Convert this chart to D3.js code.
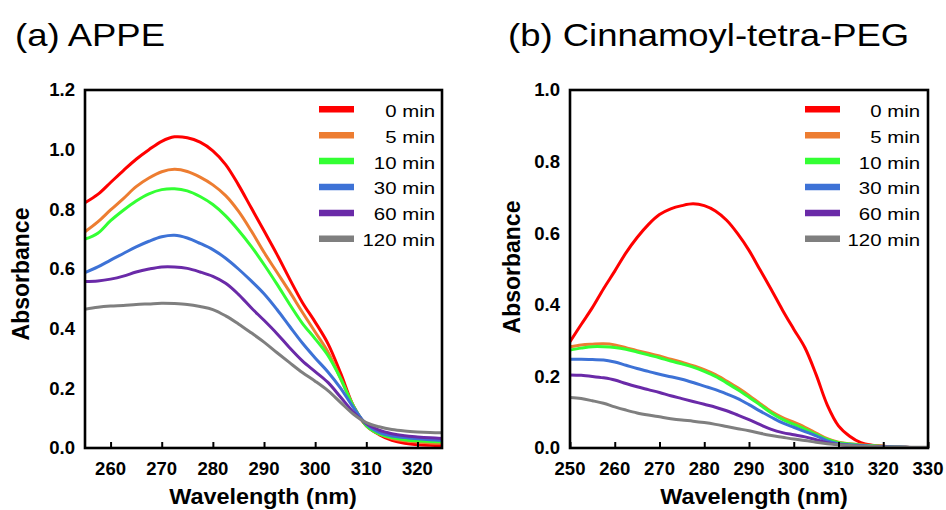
<!DOCTYPE html>
<html>
<head>
<meta charset="utf-8">
<script src="https://cdn.jsdelivr.net/npm/d3@7"></script>
<style>
  html, body { margin: 0; padding: 0; background: #fff; }
  svg { display: block; font-family: "Liberation Sans", Arial, sans-serif; }
</style>
</head>
<body>
<svg id="chart" width="946" height="510"></svg>
<script>
// Irradiation times shown in the legends
const timeLabels = ["0 min", "5 min", "10 min", "30 min", "60 min", "120 min"];
const seriesColors = ["#ff0000", "#ed7d31", "#33ff33", "#3d72d6", "#6a2aa8", "#7f7f7f"];

// (a) APPE — wavelength grid (nm) and absorbance per irradiation time
const wavelengthA = [255, 257.5, 260, 262.5, 265, 267.5, 270, 272.5, 275, 277.5, 280, 282.5, 285, 287.5, 290,
  292.5, 295, 297.5, 300, 302.5, 305, 307.5, 310, 312.5, 315, 317.5, 320, 322.5, 325];
const appe0 = [0.822, 0.850, 0.890, 0.930, 0.968, 1.000, 1.028, 1.043, 1.040, 1.025, 0.996, 0.950, 0.882, 0.805, 0.728,
  0.650, 0.567, 0.488, 0.422, 0.350, 0.250, 0.140, 0.075, 0.045, 0.026, 0.016, 0.011, 0.009, 0.008];
const appe5 = [0.725, 0.758, 0.798, 0.836, 0.876, 0.905, 0.926, 0.934, 0.927, 0.908, 0.882, 0.846, 0.794, 0.728, 0.656,
  0.590, 0.524, 0.455, 0.389, 0.322, 0.232, 0.140, 0.075, 0.047, 0.032, 0.024, 0.020, 0.017, 0.016];
const appe10 = [0.700, 0.720, 0.762, 0.797, 0.828, 0.852, 0.866, 0.869, 0.862, 0.843, 0.816, 0.778, 0.730, 0.676, 0.615,
  0.550, 0.482, 0.418, 0.366, 0.310, 0.232, 0.140, 0.075, 0.047, 0.035, 0.028, 0.024, 0.022, 0.021];
const appe30 = [0.588, 0.607, 0.630, 0.652, 0.674, 0.693, 0.708, 0.713, 0.704, 0.686, 0.665, 0.636, 0.600, 0.560, 0.517,
  0.465, 0.408, 0.352, 0.302, 0.255, 0.200, 0.135, 0.080, 0.052, 0.040, 0.035, 0.031, 0.028, 0.026];
const appe60 = [0.558, 0.560, 0.566, 0.576, 0.590, 0.600, 0.607, 0.607, 0.602, 0.590, 0.575, 0.552, 0.515, 0.470, 0.428,
  0.384, 0.336, 0.292, 0.256, 0.220, 0.170, 0.120, 0.082, 0.060, 0.048, 0.041, 0.037, 0.034, 0.032];
const appe120 = [0.465, 0.472, 0.476, 0.478, 0.481, 0.483, 0.485, 0.484, 0.481, 0.474, 0.464, 0.443, 0.416, 0.386, 0.355,
  0.320, 0.286, 0.253, 0.224, 0.192, 0.152, 0.113, 0.085, 0.071, 0.062, 0.057, 0.054, 0.052, 0.051];

// (b) Cinnamoyl-tetra-PEG
const wavelengthB = [250, 252.5, 255, 257.5, 260, 262.5, 265, 267.5, 270, 272.5, 275, 277.5, 280, 282.5, 285, 287.5, 290,
  292.5, 295, 297.5, 300, 302.5, 305, 307.5, 310, 312.5, 315, 317.5, 320, 322.5, 325, 327.5, 330];
const peg0 = [0.297, 0.345, 0.392, 0.445, 0.494, 0.545, 0.588, 0.624, 0.652, 0.668, 0.677, 0.682, 0.677, 0.662, 0.636, 0.598, 0.552,
  0.497, 0.442, 0.385, 0.332, 0.280, 0.205, 0.120, 0.062, 0.033, 0.015, 0.008, 0.005, 0.003, 0.002, 0.001, 0.001];
const peg5 = [0.283, 0.288, 0.290, 0.291, 0.288, 0.280, 0.272, 0.265, 0.257, 0.248, 0.240, 0.230, 0.219, 0.205, 0.187, 0.168, 0.147,
  0.124, 0.102, 0.085, 0.072, 0.058, 0.042, 0.026, 0.016, 0.012, 0.009, 0.007, 0.005, 0.003, 0.002, 0.001, 0.001];
const peg10 = [0.274, 0.279, 0.283, 0.283, 0.281, 0.276, 0.268, 0.260, 0.252, 0.243, 0.235, 0.226, 0.214, 0.200, 0.182, 0.163, 0.142,
  0.120, 0.098, 0.080, 0.066, 0.053, 0.038, 0.024, 0.015, 0.011, 0.008, 0.006, 0.004, 0.003, 0.002, 0.001, 0.001];
const peg30 = [0.248, 0.248, 0.247, 0.246, 0.240, 0.231, 0.222, 0.214, 0.206, 0.199, 0.192, 0.183, 0.173, 0.163, 0.151, 0.138, 0.121,
  0.103, 0.086, 0.070, 0.058, 0.046, 0.034, 0.020, 0.012, 0.009, 0.007, 0.005, 0.004, 0.003, 0.002, 0.001, 0.001];
const peg60 = [0.204, 0.203, 0.200, 0.196, 0.190, 0.180, 0.171, 0.163, 0.155, 0.146, 0.138, 0.130, 0.122, 0.114, 0.104, 0.092, 0.079,
  0.065, 0.052, 0.043, 0.037, 0.031, 0.023, 0.015, 0.010, 0.007, 0.005, 0.004, 0.003, 0.002, 0.002, 0.001, 0.001];
const peg120 = [0.141, 0.138, 0.132, 0.125, 0.115, 0.106, 0.098, 0.092, 0.087, 0.082, 0.078, 0.075, 0.071, 0.066, 0.060, 0.054, 0.048,
  0.041, 0.035, 0.030, 0.025, 0.021, 0.016, 0.012, 0.009, 0.007, 0.005, 0.004, 0.003, 0.002, 0.002, 0.002, 0.002];

// Axis ticks
const xTicksA = [260, 270, 280, 290, 300, 310, 320];
const xTicksB = [250, 260, 270, 280, 290, 300, 310, 320, 330];
const yTicksA = [0, 0.2, 0.4, 0.6, 0.8, 1.0, 1.2];
const yTicksB = [0, 0.2, 0.4, 0.6, 0.8, 1.0];

const svg = d3.select("#chart");

// Text with a slight horizontal widening of the glyphs
function wideText(parent, x, y, str, { size, weight = "normal", anchor = "start", sx = 1, rotate = 0 }) {
  const g = parent.append("g")
    .attr("transform", `translate(${x},${y}) rotate(${rotate}) scale(${sx},1)`);
  g.append("text")
    .attr("x", 0).attr("y", 0)
    .attr("text-anchor", anchor)
    .attr("font-size", size)
    .attr("font-weight", weight)
    .attr("fill", "#000")
    .text(str);
  return g;
}

function drawPanel(cfg) {
  const { left, right, top, bottom, xDomain, yDomain, wavelengths, series, xTicks, yTicks, title, titleX,
    legendX, legendTextX, yLabelX, yLabelY, xLabelX, id } = cfg;

  const x = d3.scaleLinear().domain(xDomain).range([left, right]);
  const y = d3.scaleLinear().domain(yDomain).range([bottom, top]);
  const panel = svg.append("g");

  panel.append("clipPath").attr("id", "clip-" + id)
    .append("rect").attr("x", left).attr("y", top).attr("width", right - left).attr("height", bottom - top);

  // spectra
  const line = d3.line()
    .x((d, i) => x(wavelengths[i]))
    .y(d => y(d))
    .curve(d3.curveCatmullRom.alpha(0.5));

  panel.append("g").attr("clip-path", `url(#clip-${id})`)
    .selectAll("path")
    .data(series)
    .join("path")
    .attr("d", d => line(d))
    .attr("fill", "none")
    .attr("stroke", (d, i) => seriesColors[i])
    .attr("stroke-width", 3)
    .attr("stroke-linejoin", "round");

  // bottom axis: inward ticks only
  const xAxis = d3.axisBottom(x).tickValues(xTicks).tickSizeInner(-6).tickSizeOuter(0).tickFormat("");
  const gx = panel.append("g").attr("transform", `translate(0,${bottom})`).call(xAxis);
  gx.select(".domain").remove();
  gx.selectAll(".tick line").attr("stroke", "#000").attr("stroke-width", 2);
  xTicks.forEach(t => {
    wideText(panel, x(t), bottom + 27, String(t), { size: 17.5, weight: "bold", anchor: "middle", sx: 1.06 });
  });

  // left axis labels (no tick marks)
  yTicks.forEach(t => {
    wideText(panel, left - 10, y(t) + 6.3, t.toFixed(1), { size: 17.5, weight: "bold", anchor: "end", sx: 1.06 });
  });

  // frame
  panel.append("rect")
    .attr("x", left).attr("y", top).attr("width", right - left).attr("height", bottom - top)
    .attr("fill", "none").attr("stroke", "#000").attr("stroke-width", 2.6);

  // axis titles
  wideText(panel, xLabelX, 504, "Wavelength (nm)", { size: 22.5, weight: "bold", anchor: "middle", sx: 1.04 });
  wideText(panel, yLabelX, yLabelY, "Absorbance", { size: 23, weight: "bold", anchor: "middle", rotate: -90 });

  // panel title
  wideText(panel, titleX, 46, title, { size: 32, sx: 1.14 });

  // legend
  const legend = panel.append("g");
  timeLabels.forEach((lab, i) => {
    const ly = 109.3 + i * 25.9;
    legend.append("line")
      .attr("x1", legendX).attr("x2", legendX + 35)
      .attr("y1", ly).attr("y2", ly)
      .attr("stroke", seriesColors[i]).attr("stroke-width", 6.5);
    wideText(legend, legendTextX, ly + 7.4, lab, { size: 17, anchor: "end", sx: 1.2 });
  });
}

drawPanel({
  id: "a", left: 85, right: 442, top: 90, bottom: 448,
  xDomain: [255, 324.8], yDomain: [0, 1.2],
  wavelengths: wavelengthA,
  series: [appe0, appe5, appe10, appe30, appe60, appe120],
  xTicks: xTicksA, yTicks: yTicksA,
  title: "(a) APPE", titleX: 15,
  legendX: 319, legendTextX: 435,
  yLabelX: 29, yLabelY: 274, xLabelX: 263
});

drawPanel({
  id: "b", left: 570, right: 928, top: 90, bottom: 448,
  xDomain: [250, 330], yDomain: [0, 1.0],
  wavelengths: wavelengthB,
  series: [peg0, peg5, peg10, peg30, peg60, peg120],
  xTicks: xTicksB, yTicks: yTicksB,
  title: "(b) Cinnamoyl-tetra-PEG", titleX: 508,
  legendX: 805, legendTextX: 920,
  yLabelX: 520, yLabelY: 267, xLabelX: 754
});
</script>
</body>
</html>
